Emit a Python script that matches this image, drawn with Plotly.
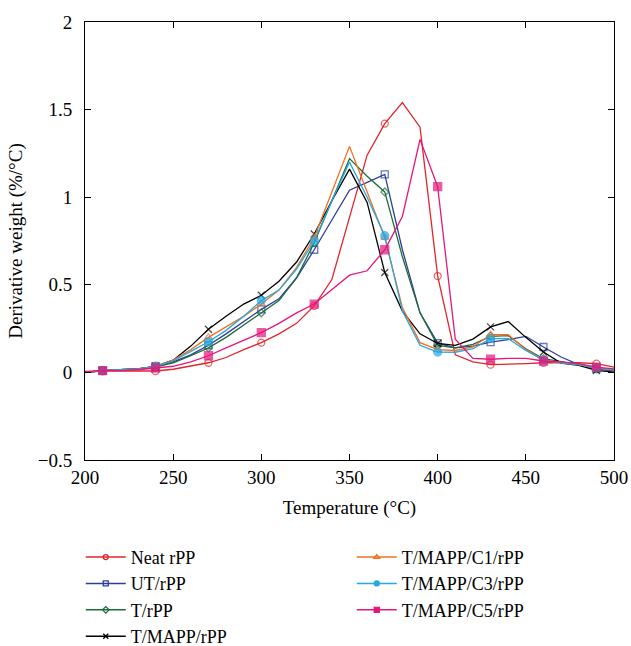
import plotly.graph_objects as go

temps = list(range(200, 501, 10))
marker_temps = [210, 240, 270, 300, 330, 370, 400, 430, 460, 490]

neat_rpp = [0.0, 0.008, 0.008, 0.009, 0.008, 0.018, 0.035, 0.055, 0.085, 0.13, 0.17, 0.22, 0.28, 0.38, 0.53,
            0.88, 1.24, 1.42, 1.54, 1.40, 0.55, 0.10, 0.06, 0.044, 0.045, 0.05, 0.055, 0.055, 0.055, 0.05, 0.03]
ut_rpp = [0.0, 0.01, 0.015, 0.02, 0.035, 0.06, 0.10, 0.155, 0.22, 0.29, 0.36, 0.42, 0.54, 0.70, 0.87,
          1.04, 1.085, 1.13, 0.70, 0.34, 0.167, 0.14, 0.15, 0.173, 0.187, 0.206, 0.145, 0.088, 0.045, 0.02, 0.01]
t_rpp = [0.0, 0.01, 0.015, 0.02, 0.03, 0.055, 0.095, 0.14, 0.20, 0.27, 0.34, 0.41, 0.54, 0.74, 0.98,
         1.22, 1.12, 1.03, 0.66, 0.34, 0.154, 0.14, 0.16, 0.206, 0.21, 0.135, 0.078, 0.06, 0.045, 0.02, 0.01]
t_mapp_rpp = [0.0, 0.01, 0.015, 0.02, 0.035, 0.07, 0.15, 0.246, 0.32, 0.39, 0.44, 0.52, 0.63, 0.79, 0.98,
              1.16, 0.97, 0.57, 0.35, 0.22, 0.165, 0.154, 0.19, 0.26, 0.29, 0.20, 0.116, 0.053, 0.04, 0.011, 0.002]
c1_rpp = [0.0, 0.01, 0.015, 0.02, 0.035, 0.07, 0.13, 0.20, 0.26, 0.32, 0.39, 0.47, 0.60, 0.77, 1.03,
          1.29, 1.03, 0.77, 0.37, 0.17, 0.13, 0.125, 0.145, 0.215, 0.216, 0.13, 0.07, 0.055, 0.045, 0.025, 0.015]
c3_rpp = [0.0, 0.01, 0.015, 0.02, 0.035, 0.065, 0.12, 0.175, 0.24, 0.32, 0.41, 0.47, 0.59, 0.75, 0.98,
          1.20, 1.00, 0.78, 0.35, 0.155, 0.116, 0.115, 0.135, 0.193, 0.193, 0.125, 0.07, 0.055, 0.045, 0.025, 0.015]
c5_rpp = [0.005, 0.01, 0.01, 0.015, 0.025, 0.035, 0.06, 0.095, 0.14, 0.185, 0.227, 0.28, 0.34, 0.39, 0.47,
          0.555, 0.58, 0.70, 0.89, 1.33, 1.06, 0.19, 0.08, 0.075, 0.08, 0.08, 0.065, 0.06, 0.05, 0.03, 0.02]

# (name, values, colour, symbol, marker size) -- order gives a two-column legend
series = [
    ("Neat rPP", neat_rpp, "#e0262b", "circle-open", 7),
    ("T/MAPP/C1/rPP", c1_rpp, "#f36f21", "triangle-up-open", 7),
    ("UT/rPP", ut_rpp, "#2e3d98", "square-open", 7),
    ("T/MAPP/C3/rPP", c3_rpp, "#27a8e0", "circle", 8),
    ("T/rPP", t_rpp, "#1d6d3a", "diamond-open", 6),
    ("T/MAPP/C5/rPP", c5_rpp, "#e5177b", "square", 8),
    ("T/MAPP/rPP", t_mapp_rpp, "#000000", "x-thin-open", 7),
]

FONT = "Liberation Serif"
fig = go.Figure()
draw_order = ["Neat rPP", "UT/rPP", "T/rPP", "T/MAPP/rPP", "T/MAPP/C1/rPP", "T/MAPP/C3/rPP", "T/MAPP/C5/rPP"]
lookup = {s[0]: s for s in series}
for name in draw_order:
    _, vals, col, sym, ms = lookup[name]
    sizes = [ms if t in marker_temps else 0 for t in temps]
    fig.add_trace(go.Scatter(
        x=temps, y=vals, mode="lines+markers", name=name, showlegend=False,
        line=dict(color=col, width=1.3),
        marker=dict(symbol=sym, size=sizes, color=col, line=dict(color=col, width=1.3)),
    ))
for name, vals, col, sym, ms in series:
    fig.add_trace(go.Scatter(
        x=[None], y=[None], mode="lines+markers", name=name,
        line=dict(color=col, width=1.5),
        marker=dict(symbol=sym, size=5, color=col, line=dict(color=col, width=1.3)),
    ))

fig.update_layout(
    width=631, height=646,
    margin=dict(l=85, r=17, t=22, b=186, autoexpand=False),
    paper_bgcolor="white", plot_bgcolor="white",
    font=dict(family=FONT, size=19, color="black"),
    legend=dict(orientation="h", x=-0.008, y=-0.18, xanchor="left", yanchor="top",
                entrywidth=216, entrywidthmode="pixels", traceorder="normal",
                font=dict(family=FONT, size=18), itemwidth=40),
)
fig.update_xaxes(range=[200, 500], tickvals=[200, 250, 300, 350, 400, 450, 500],
                 showline=True, linecolor="black", linewidth=1, mirror="ticks",
                 ticks="inside", ticklen=6, tickcolor="black", showgrid=False, zeroline=False,
                 ticklabelstandoff=0,
                 title=dict(text="Temperature (°C)", font=dict(size=19), standoff=13))
fig.update_yaxes(range=[-0.5, 2], tickvals=[-0.5, 0, 0.5, 1, 1.5, 2],
                 showline=True, linecolor="black", linewidth=1, mirror="ticks",
                 ticks="inside", ticklen=6, tickcolor="black", showgrid=False, zeroline=False,
                 ticklabelstandoff=8,
                 title=dict(text="Derivative weight (%/°C)", font=dict(size=19), standoff=10))

fig.write_html("out.html")
